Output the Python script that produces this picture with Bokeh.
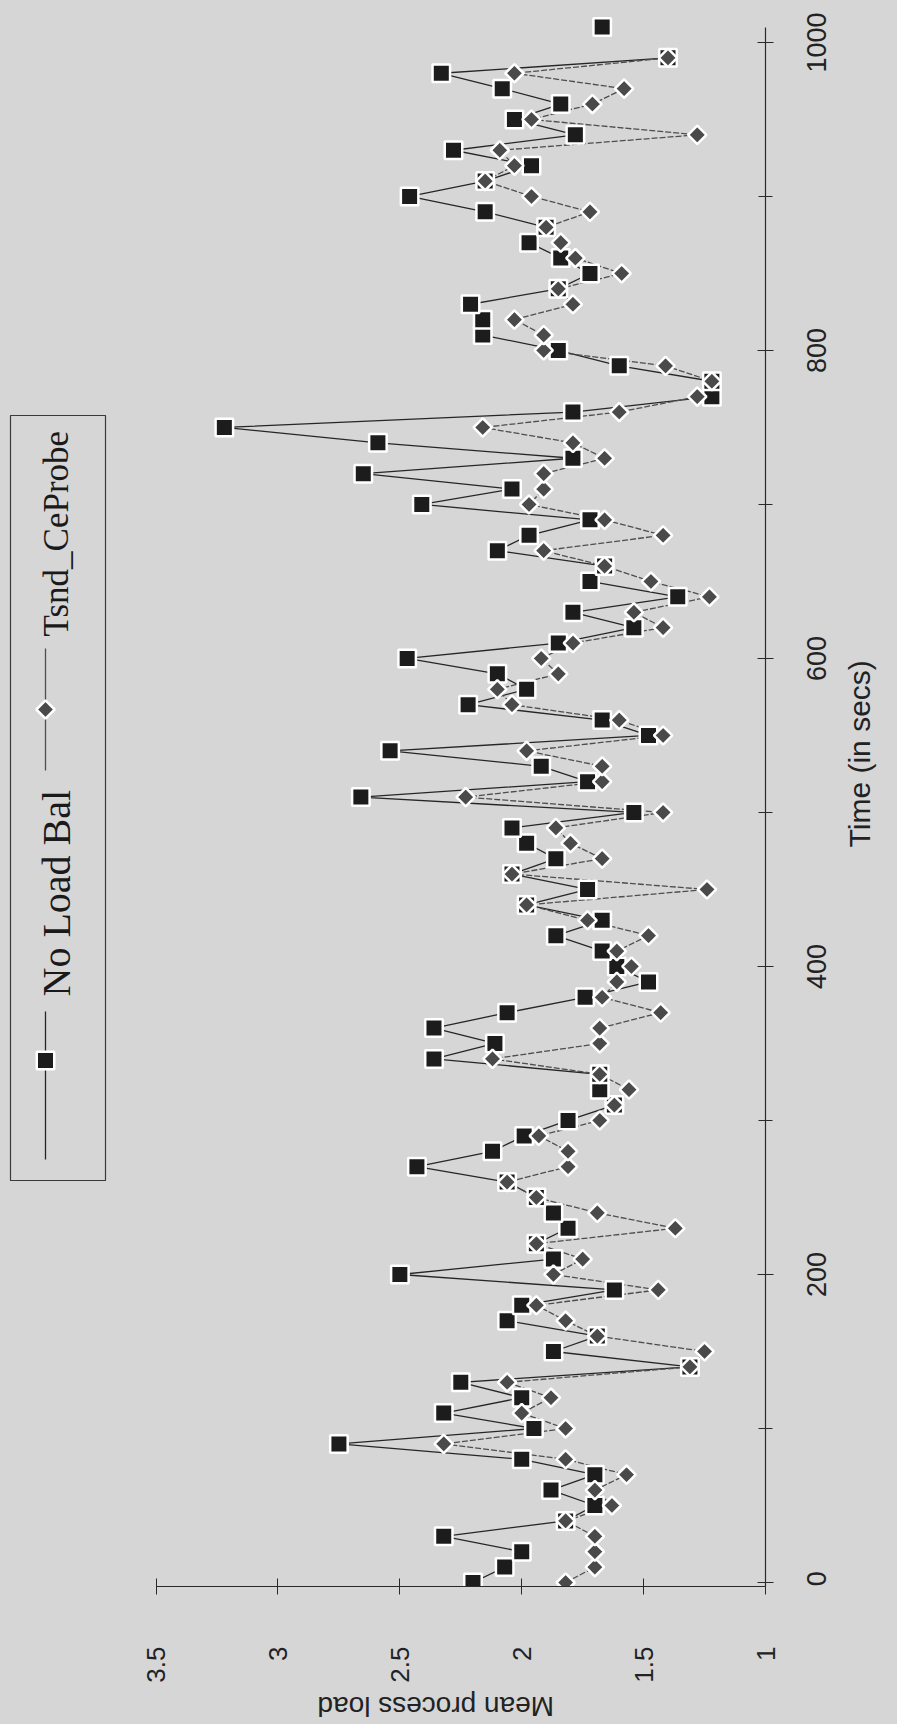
import math
from bokeh.plotting import figure
from bokeh.models import Range1d, FixedTicker, ColumnDataSource, LinearAxis
from bokeh.core.properties import value
from bokeh.embed import file_html
from bokeh.resources import INLINE

# ---------------- data ----------------
time_s = [0, 10, 20, 30, 40, 50, 60, 70, 80, 90,
          100, 110, 120, 130, 140, 150, 160, 170, 180, 190,
          200, 210, 220, 230, 240, 250, 260, 270, 280, 290,
          300, 310, 320, 330, 340, 350, 360, 370, 380, 390,
          400, 410, 420, 430, 440, 450, 460, 470, 480, 490,
          500, 510, 520, 530, 540, 550, 560, 570, 580, 590,
          600, 610, 620, 630, 640, 650, 660, 670, 680, 690,
          700, 710, 720, 730, 740, 750, 760, 770, 780, 790,
          800, 810, 820, 830, 840, 850, 860, 870, 880, 890,
          900, 910, 920, 930, 940, 950, 960, 970, 980, 990]

no_load_bal = [2.20, 2.07, 2.00, 2.32, 1.82, 1.70, 1.88, 1.70, 2.00, 2.75,
               1.95, 2.32, 2.00, 2.25, 1.31, 1.87, 1.69, 2.06, 2.00, 1.62,
               2.50, 1.87, 1.94, 1.81, 1.87, 1.94, 2.06, 2.43, 2.12, 1.99,
               1.81, 1.62, 1.68, 1.68, 2.36, 2.11, 2.36, 2.06, 1.74, 1.48,
               1.61, 1.67, 1.86, 1.67, 1.98, 1.73, 2.04, 1.86, 1.98, 2.04,
               1.54, 2.66, 1.73, 1.92, 2.54, 1.48, 1.67, 2.22, 1.98, 2.10,
               2.47, 1.85, 1.54, 1.79, 1.36, 1.72, 1.66, 2.10, 1.97, 1.72,
               2.41, 2.04, 2.65, 1.79, 2.59, 3.22, 1.79, 1.22, 1.22, 1.60,
               1.85, 2.16, 2.16, 2.21, 1.85, 1.72, 1.84, 1.97, 1.90, 2.15,
               2.46, 2.15, 1.96, 2.28, 1.78, 2.03, 1.84, 2.08, 2.33, 1.40]

tsnd_ceprobe = [1.82, 1.70, 1.70, 1.70, 1.82, 1.63, 1.70, 1.57, 1.82, 2.32,
                1.82, 2.00, 1.88, 2.06, 1.31, 1.25, 1.69, 1.82, 1.94, 1.44,
                1.87, 1.75, 1.94, 1.37, 1.69, 1.94, 2.06, 1.81, 1.81, 1.93,
                1.68, 1.62, 1.56, 1.68, 2.12, 1.68, 1.68, 1.43, 1.67, 1.61,
                1.55, 1.61, 1.48, 1.73, 1.98, 1.24, 2.04, 1.67, 1.80, 1.86,
                1.42, 2.23, 1.67, 1.67, 1.98, 1.42, 1.60, 2.04, 2.10, 1.85,
                1.92, 1.79, 1.42, 1.54, 1.23, 1.47, 1.66, 1.91, 1.42, 1.66,
                1.97, 1.91, 1.91, 1.66, 1.79, 2.16, 1.60, 1.28, 1.22, 1.41,
                1.91, 1.91, 2.03, 1.79, 1.85, 1.59, 1.78, 1.84, 1.90, 1.72,
                1.96, 2.15, 2.03, 2.09, 1.28, 1.96, 1.71, 1.58, 2.03, 1.40]

# a last, unconnected "No Load Bal" mark
extra_time = [1010]
extra_no_load_bal = [1.67]

load_ticks = [1, 1.5, 2, 2.5, 3, 3.5]
load_tick_labels = ["1", "1.5", "2", "2.5", "3", "3.5"]
time_ticks = [0, 200, 400, 600, 800, 1000]
time_tick_labels = ["0", "200", "400", "600", "800", "1000"]
time_minor_ticks = [100, 300, 500, 700, 900]
series_names = ["No Load Bal", "Tsnd_CeProbe"]
x_title = "Mean process load"
y_title = "Time (in secs)"

# ---------------- layout ----------------
BG = "#d6d6d6"
FRAME_W, FRAME_H = 757, 1575
LEFT_BORDER, TOP_BORDER = 8, 11
X_START, X_END = 4.1055, 1.0
Y_START, Y_END = -2.6, 1020.1
PX_PER_LOAD = FRAME_W / (X_START - X_END)
PX_PER_S = FRAME_H / (Y_END - Y_START)
FRAME_RIGHT_PAGE = LEFT_BORDER + FRAME_W
FRAME_BOTTOM_PAGE = TOP_BORDER + FRAME_H
TIME_LABEL_PX = 27
DIGIT_W = 0.556 * TIME_LABEL_PX


def lx(xpage):
    return X_END + (FRAME_RIGHT_PAGE - xpage) / PX_PER_LOAD


def ty(ypage):
    return Y_START + (FRAME_BOTTOM_PAGE - ypage) / PX_PER_S


p = figure(frame_width=FRAME_W, frame_height=FRAME_H,
           x_range=Range1d(X_START, X_END), y_range=Range1d(Y_START, Y_END),
           y_axis_location="right", output_backend="svg", toolbar_location=None,
           title=None,
           min_border_left=LEFT_BORDER, min_border_top=TOP_BORDER,
           min_border_right=897 - LEFT_BORDER - FRAME_W,
           min_border_bottom=1724 - TOP_BORDER - FRAME_H,
           background_fill_color=BG, border_fill_color=BG,
           outline_line_color=None)

p.xgrid.visible = False
p.ygrid.visible = False

AX_COL = "#2a2a2a"
TXT_COL = "#222222"
xa = p.xaxis[0]
xa.ticker = FixedTicker(ticks=load_ticks)
xa.major_label_overrides = {k: v for k, v in zip(load_ticks, load_tick_labels)}
xa.bounds = (1, 3.5)
xa.axis_line_color = AX_COL
xa.axis_line_width = 1.2
xa.major_tick_line_color = AX_COL
xa.major_tick_in = 8
xa.major_tick_out = 8
xa.minor_tick_line_color = None
xa.major_label_orientation = math.pi / 2
xa.major_label_standoff = 52
xa.major_label_text_font = "Liberation Sans"
xa.major_label_text_font_size = "26px"
xa.major_label_text_color = TXT_COL

# right axis: line and ticks only
ya = p.yaxis[0]
ya.ticker = FixedTicker(ticks=time_ticks, minor_ticks=time_minor_ticks)
ya.bounds = (Y_START, 1010)
ya.axis_line_color = AX_COL
ya.axis_line_width = 1.2
ya.major_tick_line_color = AX_COL
ya.major_tick_in = 8
ya.major_tick_out = 8
ya.minor_tick_line_color = AX_COL
ya.minor_tick_in = 7
ya.minor_tick_out = 7
ya.major_label_overrides = {k: "" for k in time_ticks}
ya.major_label_text_font_size = "0px"
ya.major_label_standoff = 0

# right axis tick labels, rotated and centred on their ticks
# (kept inside the visible range so that the "0" label is drawn)
time_label_pos = [round(max(Y_START + 0.1, t - len(s) * DIGIT_W / 2 / PX_PER_S), 2)
                  for t, s in zip(time_ticks, time_tick_labels)]
yl = LinearAxis(ticker=FixedTicker(ticks=time_label_pos),
                major_label_overrides={k: v for k, v in zip(time_label_pos, time_tick_labels)},
                major_label_orientation=math.pi / 2,
                major_label_standoff=43,
                major_label_text_font="Liberation Sans",
                major_label_text_font_size="%dpx" % TIME_LABEL_PX,
                major_label_text_color=TXT_COL,
                major_tick_out=0, major_tick_in=0,
                minor_tick_out=0, minor_tick_in=0,
                axis_line_color=None, major_tick_line_color=None,
                minor_tick_line_color=None)
p.add_layout(yl, "right")

# axis titles, rotated like the rest of the scanned page
x_title_pos = round(lx(317), 3)
y_title_pos = round(ty(847), 1)
xt = LinearAxis(ticker=FixedTicker(ticks=[x_title_pos]),
                major_label_overrides={x_title_pos: x_title},
                major_label_orientation=math.pi,
                major_label_standoff=21,
                major_label_text_font="Liberation Sans",
                major_label_text_font_size="28px",
                major_label_text_color=TXT_COL,
                major_tick_out=0, major_tick_in=0,
                minor_tick_out=0, minor_tick_in=0,
                axis_line_color=None, major_tick_line_color=None,
                minor_tick_line_color=None)
p.add_layout(xt, "below")
yt = LinearAxis(ticker=FixedTicker(ticks=[y_title_pos]),
                major_label_overrides={y_title_pos: y_title},
                major_label_orientation=math.pi / 2,
                major_label_standoff=21,
                major_label_text_font="Liberation Sans",
                major_label_text_font_size="30px",
                major_label_text_color=TXT_COL,
                major_tick_out=0, major_tick_in=0,
                minor_tick_out=0, minor_tick_in=0,
                axis_line_color=None, major_tick_line_color=None,
                minor_tick_line_color=None)
p.add_layout(yt, "right")

src = ColumnDataSource(dict(t=time_s, nlb=no_load_bal, tsnd=tsnd_ceprobe))

SQ_FILL = "#1c1c1c"
DI_FILL = "#4a4a4a"
LINE1 = "#262626"
LINE2 = "#4e4e4e"

p.line(x="nlb", y="t", source=src, line_color=LINE1, line_width=1.3)
p.line(x="tsnd", y="t", source=src, line_color=LINE2, line_width=1.3, line_dash="6 2")
p.scatter(x="nlb", y="t", source=src, marker="square", size=17.5,
          fill_color=SQ_FILL, line_color="white", line_width=2.5)
p.scatter(x=extra_no_load_bal, y=extra_time, marker="square", size=17.5,
          fill_color=SQ_FILL, line_color="white", line_width=2.5)
p.scatter(x="tsnd", y="t", source=src, marker="square", angle=math.pi / 4, size=13,
          fill_color=DI_FILL, line_color="white", line_width=2.5)

# ---------------- rotated legend ----------------
p.quad(left=[lx(10)], right=[lx(105)], top=[ty(415)], bottom=[ty(1180)],
       fill_color=None, line_color="#3a3a3a", line_width=1.2)
# entry 1
p.line(x=[lx(45), lx(45)], y=[ty(1011), ty(1159)], line_color=LINE1, line_width=1.3)
p.scatter(x=[lx(45)], y=[ty(1060)], marker="square", size=17.5,
          fill_color=SQ_FILL, line_color="white", line_width=2.5)
p.text(x=[lx(56)], y=[ty(996)], text=[series_names[0]],
       angle=math.pi / 2, text_align="left", text_baseline="middle",
       text_font=value("Liberation Serif"), text_font_size="40px",
       text_color="#1a1a1a")
# entry 2
p.line(x=[lx(45), lx(45)], y=[ty(648), ty(770)], line_color=LINE2, line_width=1.3)
p.scatter(x=[lx(45)], y=[ty(709)], marker="square", angle=math.pi / 4, size=13,
          fill_color=DI_FILL, line_color="white", line_width=2.5)
p.text(x=[lx(56)], y=[ty(636)], text=[series_names[1]],
       angle=math.pi / 2, text_align="left", text_baseline="middle",
       text_font=value("Liberation Serif"), text_font_size="35px",
       text_color="#1a1a1a")

html = file_html(p, INLINE)
html = html.replace("</head>",
                    "<style>html, body { background-color: %s; }</style></head>" % BG, 1)
open("out.html", "w").write(html)
